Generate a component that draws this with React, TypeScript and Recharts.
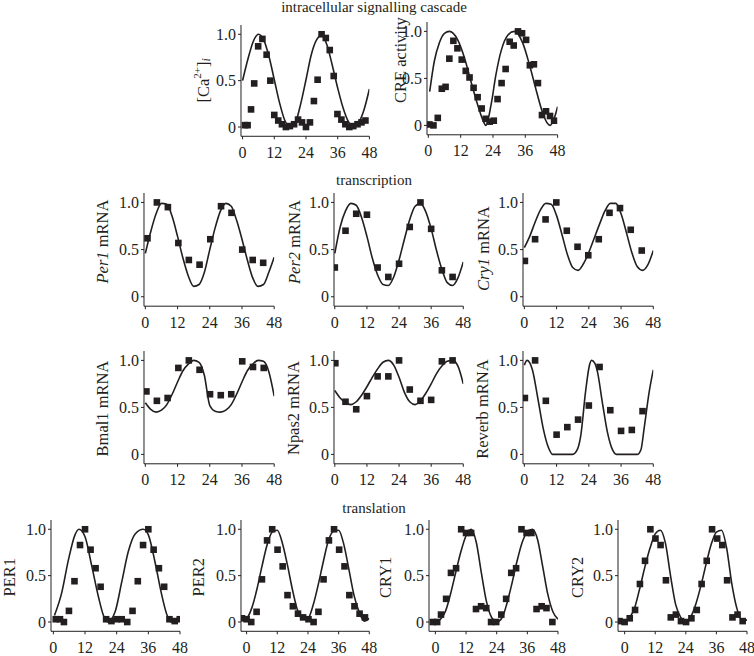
import React from "react";
import { ComposedChart, Line, Scatter, XAxis, YAxis } from "recharts";

// colours / type
const INK = "#231f20";
const FONT = '"Liberation Serif", "Times New Roman", serif';

// shared time grids (hours) for the fitted curves
const HOURS_2 = [0, 2, 4, 6, 8, 10, 12, 14, 16, 18, 20, 22, 24, 26, 28, 30, 32, 34, 36, 38, 40, 42, 44, 46, 48];
const HOURS_2_EARLY = [-2, 0, 2, 4, 6, 8, 10, 12, 14, 16, 18, 20, 22, 24, 26, 28, 30, 32, 34, 36, 38, 40, 42, 44, 46, 48];
const TIME_TICKS = [0, 12, 24, 36, 48];
const LEVEL_TICKS = [0, 0.5, 1];

// intracellular signalling cascade
const CA_TIME = [0.9, 1.9, 3.2, 4.4, 5.9, 7.5, 9.1, 10.5, 12, 13.5, 14.9, 16.4, 17.9, 19.5, 21, 22.5, 24, 25.5, 27, 28.4, 29.9, 31.5, 33, 34.5, 35.9, 37.4, 38.9, 40.4, 41.9, 43.5, 45, 46.5];
const CA_LEVEL = [0.02, 0.02, 0.19, 0.47, 0.87, 0.95, 0.78, 0.5, 0.13, 0.07, 0.03, 0, 0.01, 0.03, 0.08, 0.05, 0, 0.05, 0.28, 0.51, 1.0, 0.96, 0.83, 0.55, 0.14, 0.08, 0.03, 0, 0.01, 0.03, 0.05, 0.07];
const CA_FIT = [0.5, 0.73, 0.92, 1.0, 0.94, 0.76, 0.51, 0.26, 0.07, 0, 0.05, 0.25, 0.51, 0.78, 0.94, 0.99, 0.88, 0.66, 0.42, 0.21, 0.06, 0, 0.05, 0.19, 0.41];

const CRE_TIME = [0.4, 1.9, 3.5, 5, 6.4, 7.8, 9.3, 10.8, 12.4, 13.9, 15.3, 16.8, 18.3, 19.8, 21.3, 22.8, 24.3, 25.7, 27.2, 28.7, 30.2, 31.7, 33.3, 34.8, 36.3, 37.7, 39.2, 40.7, 42.2, 43.7, 45.2, 46.7];
const CRE_ACTIVITY = [0.01, 0, 0.08, 0.39, 0.41, 0.71, 0.9, 0.82, 0.7, 0.58, 0.51, 0.4, 0.3, 0.18, 0.07, 0.04, 0.05, 0.28, 0.45, 0.6, 0.89, 0.85, 1.0, 0.98, 0.91, 0.64, 0.65, 0.45, 0.11, 0.15, 0.1, 0.05];
const CRE_FIT_TIME = [0.5, 2.2, 4.1, 6, 7.8, 10.9, 13.4, 15.8, 18.3, 20.2, 21.4, 23.3, 25.1, 27, 29.5, 31.9, 35, 37.5, 40, 42.5, 44.3, 45.3, 46.8, 48];
const CRE_FIT = [0.36, 0.68, 0.88, 0.98, 1.0, 0.91, 0.72, 0.47, 0.22, 0.06, 0, 0.22, 0.54, 0.79, 0.96, 1.0, 0.88, 0.65, 0.38, 0.13, 0.02, 0, 0.08, 0.2];

// transcription
const PER1_TIME = [0.8, 4.3, 8.4, 12.3, 16.2, 20.2, 24.2, 28.2, 32.1, 36.1, 40, 43.9];
const PER1_MRNA = [0.62, 1.0, 0.95, 0.57, 0.39, 0.34, 0.61, 0.96, 0.89, 0.5, 0.39, 0.36];
const PER1_MRNA_FIT = [0.46, 0.69, 0.88, 0.99, 0.98, 0.85, 0.64, 0.41, 0.22, 0.11, 0.13, 0.26, 0.5, 0.73, 0.91, 0.99, 0.96, 0.81, 0.61, 0.39, 0.2, 0.11, 0.13, 0.26, 0.42];

const PER2_TIME = [0, 4, 8, 12, 16, 20, 24, 28, 32, 36, 40, 44];
const PER2_MRNA = [0.31, 0.7, 0.88, 0.87, 0.31, 0.21, 0.35, 0.74, 1.0, 0.72, 0.28, 0.21];
const PER2_MRNA_FIT = [0.46, 0.74, 0.91, 0.99, 0.97, 0.84, 0.64, 0.41, 0.23, 0.13, 0.12, 0.21, 0.39, 0.61, 0.82, 0.96, 0.99, 0.9, 0.72, 0.49, 0.29, 0.15, 0.12, 0.2, 0.37];

const CRY1_TIME = [0.2, 4, 7.9, 11.9, 15.8, 19.8, 23.8, 27.7, 31.7, 35.6, 39.6, 43.7];
const CRY1_MRNA = [0.38, 0.61, 0.82, 1.0, 0.7, 0.53, 0.44, 0.61, 0.89, 0.94, 0.71, 0.49];
const CRY1_MRNA_FIT = [0.52, 0.64, 0.79, 0.92, 0.99, 0.98, 0.86, 0.66, 0.45, 0.31, 0.28, 0.35, 0.47, 0.62, 0.77, 0.91, 0.99, 0.99, 0.88, 0.68, 0.47, 0.32, 0.28, 0.34, 0.49];

const BMAL1_TIME = [0.4, 4.3, 8.3, 12.3, 16.2, 20.2, 24.1, 28.1, 32, 36.1, 40.1, 44.1];
const BMAL1_MRNA = [0.67, 0.57, 0.6, 0.92, 1.0, 0.9, 0.64, 0.63, 0.64, 0.99, 0.93, 0.92];
const BMAL1_FIT = [0.55, 0.48, 0.45, 0.47, 0.53, 0.64, 0.77, 0.89, 0.96, 1.0, 0.98, 0.84, 0.52, 0.46, 0.45, 0.47, 0.53, 0.64, 0.77, 0.89, 0.96, 1.0, 0.99, 0.88, 0.62];

const NPAS2_TIME = [0.2, 4, 8, 12, 16, 20, 24, 28, 32, 36, 40, 44];
const NPAS2_MRNA = [0.97, 0.56, 0.48, 0.62, 0.83, 0.83, 1.0, 0.69, 0.57, 0.58, 0.99, 1.0];
const NPAS2_FIT = [0.68, 0.6, 0.55, 0.53, 0.56, 0.63, 0.72, 0.82, 0.91, 0.98, 1.0, 0.95, 0.82, 0.66, 0.56, 0.53, 0.57, 0.65, 0.75, 0.86, 0.94, 0.99, 1.0, 0.94, 0.75];

const REVERB_TIME = [0.2, 4, 8, 12, 16, 20, 24, 28, 32, 36, 40, 44];
const REVERB_MRNA = [0.6, 1.0, 0.57, 0.21, 0.29, 0.37, 0.52, 0.93, 0.47, 0.25, 0.26, 0.46];
const REVERB_FIT_TIME = [0, 1, 3, 5, 7, 9, 10.5, 18, 19.7, 21, 22.8, 24.1, 25, 26.2, 27.2, 29, 30.9, 32.8, 34.3, 42, 43.4, 44.6, 46.5, 48];
const REVERB_FIT = [0.95, 1.0, 0.9, 0.6, 0.28, 0.07, 0, 0, 0.05, 0.2, 0.67, 0.93, 1.0, 0.97, 0.88, 0.56, 0.24, 0.05, 0, 0, 0.05, 0.28, 0.67, 0.9];

// translation
const PER1P_TIME = [0.9, 2.5, 4, 5.9, 8, 10.1, 12, 14.1, 16, 17.9, 20, 22, 24, 25.9, 28, 30, 32, 34, 36, 38, 40, 42, 44, 46, 47.9];
const PER1P_LEVEL = [0.03, 0.03, 0, 0.12, 0.44, 0.83, 1.0, 0.78, 0.58, 0.38, 0.03, 0.01, 0.03, 0.03, 0, 0.12, 0.44, 0.83, 1.0, 0.78, 0.58, 0.38, 0.03, 0.01, 0.03];
const PER1P_FIT_TIME = [0.4, 3.2, 5.7, 8.2, 9.7, 12, 14.5, 17.1, 19, 20.6, 23.4, 25.9, 28.4, 31, 34.1, 36, 38.5, 41.1, 42.9, 44.6, 46, 48];
const PER1P_FIT = [0.07, 0.32, 0.67, 0.94, 1.0, 0.92, 0.61, 0.27, 0.07, 0, 0.11, 0.43, 0.76, 0.95, 1.0, 0.94, 0.65, 0.29, 0.09, 0, 0.01, 0.06];

const PER2P_TIME = [-1.8, 0, 1.8, 3.9, 6, 8, 10, 12.1, 14.1, 16, 18.1, 20.1, 22.1, 24.2, 26.2, 28.1, 30.1, 32.2, 34.2, 36.2, 38.3, 40.2, 42.2, 44.2, 46.3];
const PER2P_LEVEL = [0.04, 0.03, 0, 0.11, 0.46, 0.88, 1.0, 0.78, 0.6, 0.29, 0.17, 0.09, 0.05, 0.03, 0, 0.11, 0.46, 0.88, 1.0, 0.78, 0.6, 0.29, 0.17, 0.09, 0.05];
const PER2P_FIT = [0.02, 0.04, 0.15, 0.35, 0.6, 0.83, 0.97, 0.99, 0.85, 0.61, 0.34, 0.12, 0.03, 0.04, 0.18, 0.4, 0.65, 0.88, 0.98, 0.99, 0.84, 0.57, 0.29, 0.11, 0.01, 0.04];

const CRY1P_TIME = [-1, 0.7, 2.2, 4.2, 6.1, 8.1, 10.1, 12, 14, 15.9, 17.9, 19.9, 21.8, 23.8, 25.8, 27.7, 29.7, 31.6, 33.7, 35.7, 37.6, 39.6, 41.6, 43.5, 45.8];
const CRY1P_LEVEL = [0, 0, 0.08, 0.25, 0.53, 0.58, 1.0, 0.96, 0.96, 0.14, 0.17, 0.15, 0, 0, 0.08, 0.25, 0.53, 0.58, 1.0, 0.96, 0.96, 0.14, 0.17, 0.15, 0];
const CRY1P_FIT = [0, 0, 0.03, 0.12, 0.31, 0.54, 0.76, 0.93, 1.0, 0.86, 0.53, 0.22, 0.05, 0, 0.04, 0.2, 0.42, 0.66, 0.86, 0.97, 1.0, 0.89, 0.6, 0.3, 0.11, 0.03];

const CRY2P_TIME = [-2, 0, 2, 4.1, 6, 8, 10.1, 12.1, 14.1, 16.2, 18.1, 20.1, 22.1, 24.1, 26.2, 28.3, 30.2, 32.2, 34.3, 36.3, 38.3, 40.2, 42.3, 44.3, 46.3];
const CRY2P_LEVEL = [0.01, 0, 0.04, 0.13, 0.41, 0.66, 1.0, 0.9, 0.83, 0.45, 0.05, 0.08, 0.01, 0, 0.04, 0.13, 0.41, 0.66, 1.0, 0.9, 0.83, 0.45, 0.05, 0.08, 0.01];
const CRY2P_FIT = [0, 0.01, 0.05, 0.16, 0.37, 0.6, 0.8, 0.95, 0.99, 0.85, 0.5, 0.19, 0.05, 0, 0.06, 0.2, 0.4, 0.63, 0.84, 0.97, 0.99, 0.8, 0.42, 0.15, 0.02, 0.02];

const toRows = (t: number[], v: number[]) => t.map((h, i) => ({ t: h, v: v[i] }));

const formatLevel = (v: number) => (v === 1 ? "1.0" : String(v));

const Square = (props: any) => {
  const { cx, cy } = props;
  if (cx == null || cy == null) return null;
  return <rect x={cx - 3.3} y={cy - 3.3} width={6.6} height={6.6} fill={INK} />;
};

interface PanelProps {
  // plot rectangle in page pixels (y-axis line, x end, top/bottom of the y range)
  x0: number;
  x1: number;
  y0: number;
  y1: number;
  xMin: number;
  fitT: number[];
  fitV: number[];
  ptT: number[];
  ptV: number[];
  label: React.ReactNode;
  labelX: number;
  labelY: number;
}

const RIGHT_PAD = 12;
const TOP_PAD = 20;

const Panel: React.FC<PanelProps> = (p) => {
  const left = p.x0 - 60;
  const top = p.y0 - TOP_PAD;
  const width = p.x1 - p.x0 + 60 + RIGHT_PAD;
  const height = p.y1 - p.y0 + TOP_PAD + 30;
  const lx = p.labelX - left;
  const ly = p.labelY - top;
  const tickStyle = { fill: INK, fontSize: 16, fontFamily: FONT };

  return (
    <div style={{ position: "absolute", left, top }}>
      <ComposedChart width={width} height={height} margin={{ top: TOP_PAD, right: RIGHT_PAD, bottom: 0, left: 0 }}>
        <XAxis
          type="number"
          dataKey="t"
          domain={[p.xMin, 48]}
          ticks={TIME_TICKS}
          interval={0}
          allowDataOverflow
          height={30}
          tickSize={3}
          tickMargin={7}
          axisLine={{ stroke: INK }}
          tickLine={{ stroke: INK }}
          tick={tickStyle}
        />
        <YAxis
          type="number"
          dataKey="v"
          domain={[-0.1, 1.1]}
          ticks={LEVEL_TICKS}
          interval={0}
          allowDataOverflow
          width={60}
          tickSize={3}
          tickMargin={2}
          axisLine={{ stroke: INK }}
          tickLine={{ stroke: INK }}
          tick={tickStyle}
          tickFormatter={formatLevel}
          label={() => (
            <text
              x={lx}
              y={ly}
              transform={`rotate(-90, ${lx}, ${ly})`}
              textAnchor="middle"
              dominantBaseline="central"
              fill={INK}
              fontSize={16.5}
              fontFamily={FONT}
            >
              {p.label}
            </text>
          )}
        />
        <Line
          data={toRows(p.fitT, p.fitV)}
          dataKey="v"
          type="monotone"
          stroke={INK}
          strokeWidth={1.6}
          dot={false}
          activeDot={false}
          isAnimationActive={false}
        />
        <Scatter data={toRows(p.ptT, p.ptV)} dataKey="v" fill={INK} shape={<Square />} isAnimationActive={false} />
      </ComposedChart>
    </div>
  );
};

const mrna = (gene: string) => (
  <>
    <tspan fontStyle="italic">{gene}</tspan>
    <tspan> mRNA</tspan>
  </>
);

const caLabel = (
  <>
    <tspan>[Ca</tspan>
    <tspan dy={-6} fontSize={11}>2+</tspan>
    <tspan dy={6}>]</tspan>
    <tspan dy={3} fontSize={12} fontStyle="italic">i</tspan>
  </>
);

// row geometry (page pixels)
const ROW2 = { y0: 192.9, y1: 306.1 };
const ROW3 = { y0: 350.9, y1: 463.7 };
const ROW4 = { y0: 519.7, y1: 631 };

export default function App() {
  return (
    <div style={{ position: "absolute", left: 0, top: 0, width: 754, height: 656, background: "#fff", overflow: "hidden" }}>
      <svg width={754} height={656} style={{ position: "absolute", left: 0, top: 0 }}>
        <g fill={INK} fontFamily={FONT} fontSize={15} textAnchor="middle">
          <text x={374} y={11.7}>intracellular signalling cascade</text>
          <text x={374} y={185}>transcription</text>
          <text x={374} y={513.3}>translation</text>
        </g>
      </svg>

      <Panel x0={241.3} x1={369.7} y0={24.7} y1={136} xMin={-0.6} fitT={HOURS_2} fitV={CA_FIT} ptT={CA_TIME} ptV={CA_LEVEL} label={caLabel} labelX={203} labelY={80} />
      <Panel x0={426.7} x1={557.3} y0={21.9} y1={134.7} xMin={-0.5} fitT={CRE_FIT_TIME} fitV={CRE_FIT} ptT={CRE_TIME} ptV={CRE_ACTIVITY} label="CRE activity" labelX={400.5} labelY={60} />

      <Panel x0={144.3} x1={274.5} {...ROW2} xMin={-0.5} fitT={HOURS_2} fitV={PER1_MRNA_FIT} ptT={PER1_TIME} ptV={PER1_MRNA} label={mrna("Per1")} labelX={102.5} labelY={241.5} />
      <Panel x0={334.2} x1={463.5} {...ROW2} xMin={-0.3} fitT={HOURS_2} fitV={PER2_MRNA_FIT} ptT={PER2_TIME} ptV={PER2_MRNA} label={mrna("Per2")} labelX={294} labelY={242} />
      <Panel x0={522.7} x1={653} {...ROW2} xMin={-0.5} fitT={HOURS_2} fitV={CRY1_MRNA_FIT} ptT={CRY1_TIME} ptV={CRY1_MRNA} label={mrna("Cry1")} labelX={482.5} labelY={248.5} />

      <Panel x0={144.3} x1={274.5} {...ROW3} xMin={-0.5} fitT={HOURS_2} fitV={BMAL1_FIT} ptT={BMAL1_TIME} ptV={BMAL1_MRNA} label="Bmal1 mRNA" labelX={102.5} labelY={408.5} />
      <Panel x0={334.2} x1={463.5} {...ROW3} xMin={-0.3} fitT={HOURS_2} fitV={NPAS2_FIT} ptT={NPAS2_TIME} ptV={NPAS2_MRNA} label="Npas2 mRNA" labelX={294} labelY={408} />
      <Panel x0={522.7} x1={653} {...ROW3} xMin={-0.5} fitT={REVERB_FIT_TIME} fitV={REVERB_FIT} ptT={REVERB_TIME} ptV={REVERB_MRNA} label="Reverb mRNA" labelX={482.5} labelY={409} />

      <Panel x0={50.7} x1={179.7} {...ROW4} xMin={-0.9} fitT={PER1P_FIT_TIME} fitV={PER1P_FIT} ptT={PER1P_TIME} ptV={PER1P_LEVEL} label="PER1" labelX={9.5} labelY={577} />
      <Panel x0={241} x1={369.3} {...ROW4} xMin={-2.2} fitT={HOURS_2_EARLY} fitV={PER2P_FIT} ptT={PER2P_TIME} ptV={PER2P_LEVEL} label="PER2" labelX={199} labelY={577} />
      <Panel x0={429.3} x1={558.3} {...ROW4} xMin={-2.5} fitT={HOURS_2_EARLY} fitV={CRY1P_FIT} ptT={CRY1P_TIME} ptV={CRY1P_LEVEL} label="CRY1" labelX={386} labelY={577} />
      <Panel x0={617.7} x1={746.7} {...ROW4} xMin={-2.6} fitT={HOURS_2_EARLY} fitV={CRY2P_FIT} ptT={CRY2P_TIME} ptV={CRY2P_LEVEL} label="CRY2" labelX={577.5} labelY={577} />
    </div>
  );
}
